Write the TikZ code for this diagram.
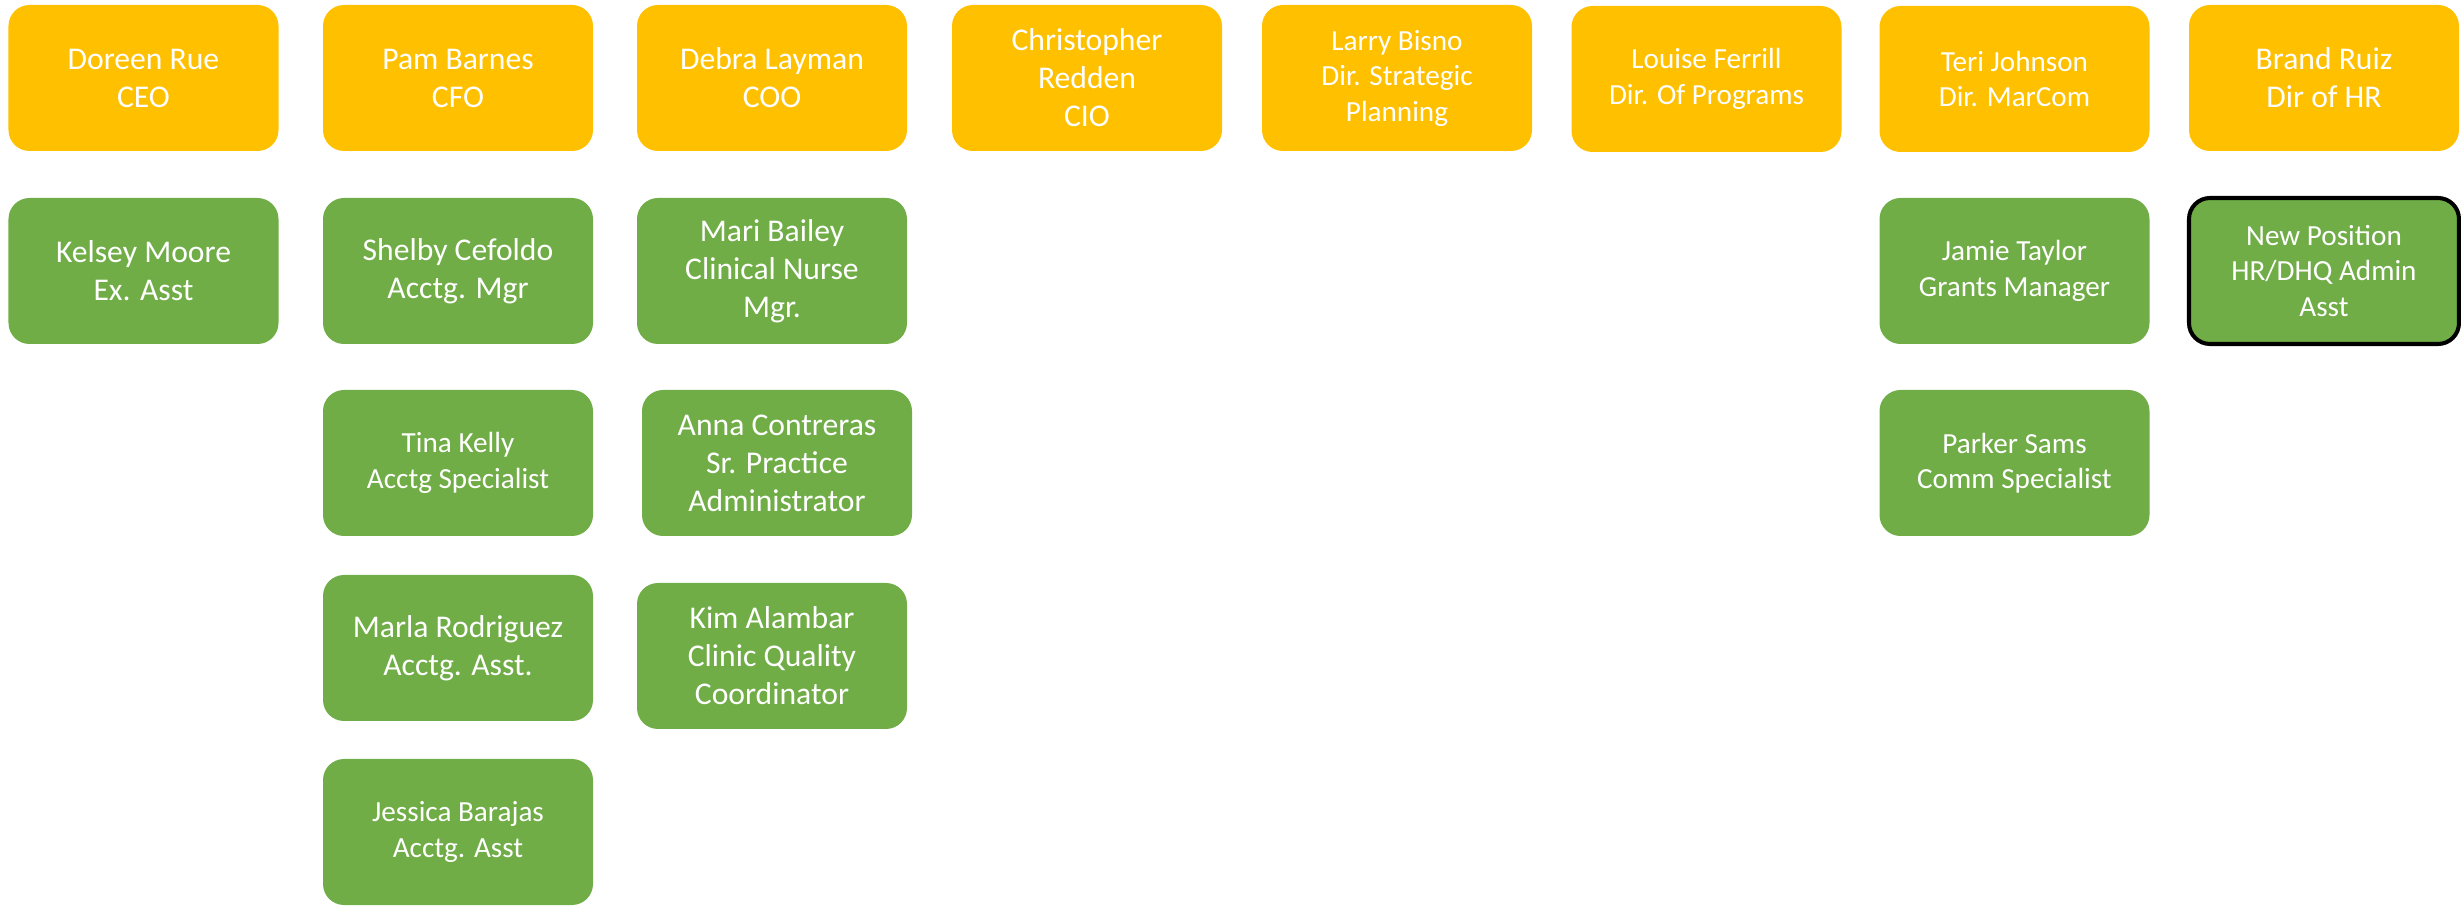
\documentclass[tikz,border=0pt]{standalone}
\usepackage{fontspec}
\setmainfont{Carlito}
\definecolor{exec}{HTML}{FFC000}
\definecolor{staff}{HTML}{70AD47}
\begin{document}
\begin{tikzpicture}[
  card/.style={rounded corners=0.21cm, minimum width=2.70cm, minimum height=1.46cm,
    inner sep=0pt, align=center, text=white, font=\fontsize{9}{10.8}\selectfont},
  small/.style={font=\fontsize{8.3}{10.1}\selectfont},
  ocard/.style={card, fill=exec},
  gcard/.style={card, fill=staff},
  newcard/.style={gcard, draw=black, line width=1.15pt}
]
\useasboundingbox (0,0) rectangle (24.61,-9.07);
% top row
\node[ocard] (ceo) at (1.435,-0.78) {Doreen Rue\\CEO};
\node[ocard] (cfo) at (4.58,-0.78) {Pam Barnes\\CFO};
\node[ocard] (coo) at (7.72,-0.78) {Debra Layman\\COO};
\node[ocard] (cio) at (10.87,-0.78) {Christopher\\Redden\\CIO};
\node[ocard, small] (dsp) at (13.97,-0.78) {Larry Bisno\\Dir. Strategic\\Planning};
\node[ocard, small] (dop) at (17.065,-0.79) {Louise Ferrill\\Dir. Of Programs};
\node[ocard, small] (mar) at (20.145,-0.79) {Teri Johnson\\Dir. MarCom};
\node[ocard] (hr) at (23.24,-0.78) {Brand Ruiz\\Dir of HR};
% column 1
\node[gcard] (kelsey) at (1.435,-2.71) {Kelsey Moore\\Ex. Asst};
% column 2
\node[gcard] (shelby) at (4.58,-2.71) {Shelby Cefoldo\\Acctg. Mgr};
\node[gcard, small] (tina) at (4.58,-4.63) {Tina Kelly\\Acctg Specialist};
\node[gcard] (marla) at (4.58,-6.48) {Marla Rodriguez\\Acctg. Asst.};
\node[gcard, small] (jessica) at (4.58,-8.32) {Jessica Barajas\\Acctg. Asst};
% column 3
\node[gcard] (mari) at (7.72,-2.71) {Mari Bailey\\Clinical Nurse\\Mgr.};
\node[gcard] (anna) at (7.77,-4.63) {Anna Contreras\\Sr. Practice\\Administrator};
\node[gcard] (kim) at (7.72,-6.56) {Kim Alambar\\Clinic Quality\\Coordinator};
% column 7
\node[gcard, small] (jamie) at (20.145,-2.71) {Jamie Taylor\\Grants Manager};
\node[gcard, small] (parker) at (20.145,-4.63) {Parker Sams\\Comm Specialist};
% column 8
\node[newcard, small] (newpos) at (23.24,-2.71) {New Position\\HR/DHQ Admin\\Asst};
\end{tikzpicture}
\end{document}
